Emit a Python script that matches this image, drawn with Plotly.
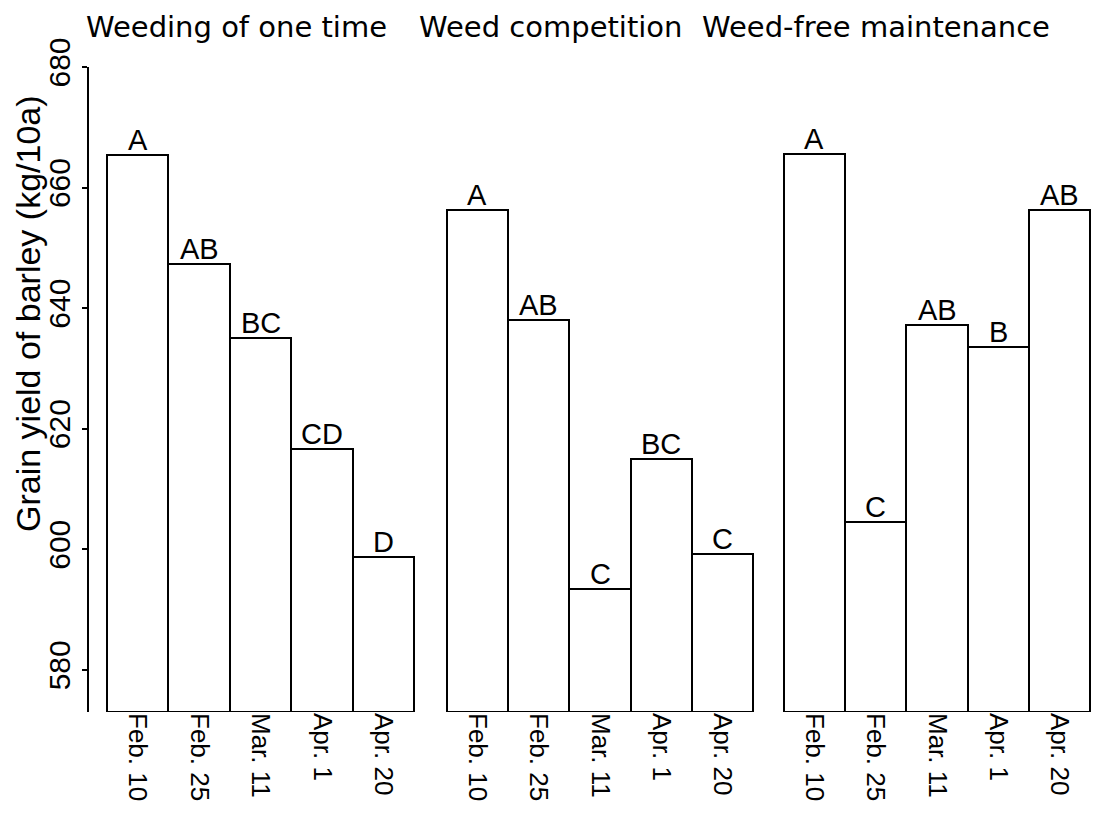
import plotly.graph_objects as go

# page body has an 8px default margin, so the figure is sized to fit the window
OFF = 8
W, H = 1099 - OFF, 820 - 2 * OFF - 1

dates = ["Feb. 10", "Feb. 25", "Mar. 11", "Apr. 1", "Apr. 20"]
panel_titles = ["Weeding of one time", "Weed competition", "Weed-free maintenance"]

yield_weeding_once = [665.4, 647.3, 635.0, 616.6, 598.7]
yield_weed_competition = [656.3, 638.0, 593.4, 615.0, 599.2]
yield_weed_free = [665.6, 604.5, 637.2, 633.6, 656.2]

letters_weeding_once = ["A", "AB", "BC", "CD", "D"]
letters_weed_competition = ["A", "AB", "C", "BC", "C"]
letters_weed_free = ["A", "C", "AB", "B", "AB"]

y_ticks = [580, 600, 620, 640, 660, 680]
y_floor = 573
y_title = "Grain yield of barley (kg/10a)"

series = [
    (yield_weeding_once, letters_weeding_once),
    (yield_weed_competition, letters_weed_competition),
    (yield_weed_free, letters_weed_free),
]

# layout geometry (window pixels); small padding so the outer bar outlines are not clipped
x_domains_px = [(105, 416), (445, 755), (782, 1092)]
x_range = [-0.53, 4.53]
title_centers_px = [236, 550, 876]
y_top_px, y_bot_px = 67, 712
axis_x_px = 88

def fx(p):
    return (p - OFF) / W

def fy(p):
    return 1 - (p - OFF) / H

fig = go.Figure()
annotations = []
axis_names = ["x", "x2", "x3"]

for i, (vals, lets) in enumerate(series):
    xa = axis_names[i]
    fig.add_trace(go.Bar(
        x=dates, y=[v - y_floor for v in vals], base=y_floor,
        xaxis=xa, yaxis="y",
        customdata=vals, hovertemplate="%{x}: %{customdata}<extra></extra>",
        marker=dict(color="white", line=dict(color="black", width=2)),
        width=1.0, showlegend=False,
    ))
    for d, v, l in zip(dates, vals, lets):
        annotations.append(dict(
            x=d, y=v, xref=xa, yref="y", text=l, showarrow=False,
            yanchor="bottom", xanchor="center", yshift=-3,
            font=dict(family="Liberation Sans, Arial, sans-serif", size=29, color="black"),
        ))

for t, cx in zip(panel_titles, title_centers_px):
    annotations.append(dict(
        x=fx(cx), y=fy(27), xref="paper", yref="paper", text=t, showarrow=False,
        xanchor="center", yanchor="middle",
        font=dict(family="DejaVu Sans, sans-serif", size=29, color="black"),
    ))

annotations.append(dict(
    x=fx(28), y=fy(314), xref="paper", yref="paper", text=y_title, showarrow=False,
    xanchor="center", yanchor="middle", textangle=-90,
    font=dict(family="Liberation Sans, Arial, sans-serif", size=34, color="black"),
))

xaxis_common = dict(
    type="category", range=x_range, anchor="y", automargin=False,
    showline=False,
    ticks="", tickangle=90, showgrid=False, zeroline=False,
    tickfont=dict(family="Liberation Sans, Arial, sans-serif", size=26, color="black"),
)

layout_axes = {}
for i, (a, b) in enumerate(x_domains_px):
    key = "xaxis" if i == 0 else f"xaxis{i+1}"
    layout_axes[key] = dict(xaxis_common, domain=[fx(a), fx(b)])

fig.update_layout(
    template="none",
    width=W, height=H,
    margin=dict(l=0, r=0, t=0, b=0, pad=0),
    paper_bgcolor="white", plot_bgcolor="white",
    bargap=0,
    annotations=annotations,
    yaxis=dict(
        domain=[fy(y_bot_px), fy(y_top_px)], range=[y_floor, 680], automargin=False,
        anchor="free", position=fx(axis_x_px),
        showline=True, linecolor="black", linewidth=2,
        ticks="outside", ticklen=5, tickwidth=2, tickcolor="black",
        tickvals=y_ticks, tickangle=-90, showgrid=False, zeroline=False,
        tickfont=dict(family="Liberation Sans, Arial, sans-serif", size=30, color="black"),
    ),
    **layout_axes,
)

fig.write_html("out.html")
